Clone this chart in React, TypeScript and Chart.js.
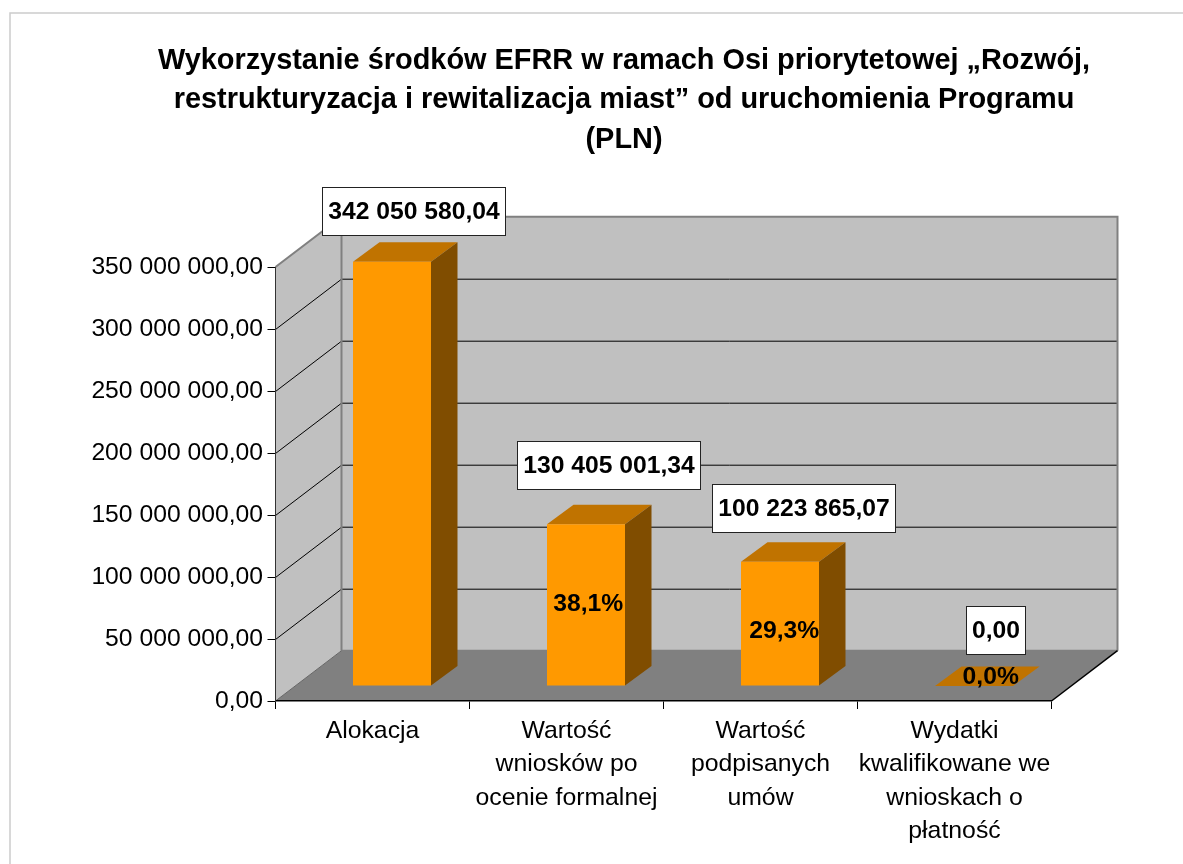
import React, { useEffect, useRef } from "react";
import { Chart, registerables } from "chart.js";

Chart.register(...registerables);

const categories = [
  "Alokacja",
  ["Wartość", "wniosków po", "ocenie formalnej"],
  ["Wartość", "podpisanych", "umów"],
  ["Wydatki", "kwalifikowane we", "wnioskach o", "płatność"],
];
const values = [342050580.04, 130405001.34, 100223865.07, 0];
const valueLabels = ["342 050 580,04", "130 405 001,34", "100 223 865,07", "0,00"];
const percentLabels = ["", "38,1%", "29,3%", "0,0%"];
const titleLines = [
  "Wykorzystanie środków EFRR w ramach Osi priorytetowej „Rozwój,",
  "restrukturyzacja i rewitalizacja miast” od uruchomienia Programu",
  "(PLN)",
];
const axisMax = 350000000;
const axisStep = 50000000;

// Style / geometry of the pseudo-3D look
const FONT = "'Liberation Sans', Arial, sans-serif";
const WALL_DX = 66;
const WALL_DY = -50.3;
const BAR_SHIFT_X = 19.5;
const BAR_SHIFT_Y = -15;
const BAR_DX = 26.5;
const BAR_DY = -19.5;
const valueNudge = [
  [40.75, -65.6],
  [42.35, -73.8],
  [42.75, -68.6],
  [40.65, -70.7],
];
const percentNudge = [
  [0, 0],
  [21.8, 63.4],
  [23.8, 53.3],
  [36.2, -25],
];

function poly(ctx: CanvasRenderingContext2D, pts: number[][], fill?: string) {
  ctx.beginPath();
  pts.forEach((p, i) => (i ? ctx.lineTo(p[0], p[1]) : ctx.moveTo(p[0], p[1])));
  ctx.closePath();
  if (fill) {
    ctx.fillStyle = fill;
    ctx.fill();
  }
}

const scene3d = {
  id: "scene3d",
  beforeDraw(chart: any) {
    const { ctx, chartArea: a, scales } = chart;
    const { left: l, right: r, top: t, bottom: b } = a;
    const dx = WALL_DX;
    const dy = WALL_DY;
    ctx.save();
    ctx.fillStyle = "#ffffff";
    ctx.fillRect(0, 0, chart.width, chart.height);
    // outer frame
    ctx.strokeStyle = "#cccccc";
    ctx.lineWidth = 1.5;
    ctx.beginPath();
    ctx.moveTo(10, chart.height);
    ctx.lineTo(10, 13);
    ctx.lineTo(chart.width, 13);
    ctx.stroke();
    // walls
    poly(ctx, [[l + dx, t + dy], [r + dx, t + dy], [r + dx, b + dy], [l + dx, b + dy]], "#c0c0c0");
    poly(ctx, [[l, t], [l + dx, t + dy], [l + dx, b + dy], [l, b]], "#c0c0c0");
    poly(ctx, [[l, b], [l + dx, b + dy], [r + dx, b + dy], [r, b]], "#808080");
    // gridlines
    ctx.strokeStyle = "#000000";
    ctx.lineWidth = 1;
    scales.y.ticks.forEach((tick: any) => {
      if (tick.value <= 0 || tick.value >= axisMax) return;
      const y = Math.round(scales.y.getPixelForValue(tick.value)) + 0.5;
      ctx.beginPath();
      ctx.moveTo(l, y);
      ctx.lineTo(l + dx, y + dy);
      ctx.lineTo(r + dx, y + dy);
      ctx.stroke();
    });
    // wall edges
    ctx.strokeStyle = "#808080";
    ctx.lineWidth = 2;
    ctx.beginPath();
    ctx.moveTo(l, t);
    ctx.lineTo(l + dx, t + dy);
    ctx.lineTo(r + dx, t + dy);
    ctx.lineTo(r + dx, b + dy);
    ctx.moveTo(l + dx, t + dy);
    ctx.lineTo(l + dx, b + dy);
    ctx.moveTo(l + dx, b + dy);
    ctx.lineTo(r + dx, b + dy);
    ctx.stroke();
    ctx.strokeStyle = "#000000";
    ctx.lineWidth = 1.5;
    ctx.beginPath();
    ctx.moveTo(r, b);
    ctx.lineTo(r + dx, b + dy);
    ctx.stroke();
    ctx.strokeStyle = "#666666";
    ctx.lineWidth = 1;
    ctx.beginPath();
    ctx.moveTo(l, b);
    ctx.lineTo(l + dx, b + dy);
    ctx.stroke();
    ctx.restore();
  },
  beforeDatasetDraw(chart: any, args: any) {
    const { ctx } = chart;
    ctx.save();
    ctx.translate(BAR_SHIFT_X, BAR_SHIFT_Y);
    args.meta.data.forEach((bar: any) => {
      const { x, y, base, width } = bar.getProps(["x", "y", "base", "width"], true);
      const xl = x - width / 2;
      const xr = x + width / 2;
      poly(ctx, [[xl, y], [xl + BAR_DX, y + BAR_DY], [xr + BAR_DX, y + BAR_DY], [xr, y]], "#c07300");
      if (base - y > 0.5) {
        poly(ctx, [[xr, y], [xr + BAR_DX, y + BAR_DY], [xr + BAR_DX, base + BAR_DY], [xr, base]], "#804d00");
      }
    });
  },
  afterDatasetDraw(chart: any) {
    chart.ctx.restore();
  },
  afterDatasetsDraw(chart: any) {
    const { ctx } = chart;
    const bars = chart.getDatasetMeta(0).data;
    ctx.save();
    ctx.font = `bold 24.7px ${FONT}`;
    ctx.textAlign = "center";
    ctx.textBaseline = "middle";
    bars.forEach((bar: any, i: number) => {
      const { x, y } = bar.getProps(["x", "y"], true);
      if (percentLabels[i]) {
        ctx.fillStyle = "#000000";
        ctx.fillText(percentLabels[i], x + percentNudge[i][0], y + percentNudge[i][1] + 1);
      }
      const cx = x + valueNudge[i][0];
      const cy = y + valueNudge[i][1];
      const w = Math.round(ctx.measureText(valueLabels[i]).width) + 11;
      const h = 48;
      const bx = Math.round(cx - w / 2) + 0.5;
      const by = Math.round(cy - h / 2) + 0.5;
      ctx.fillStyle = "#ffffff";
      ctx.fillRect(bx, by, w, h);
      ctx.strokeStyle = "#222222";
      ctx.lineWidth = 1;
      ctx.strokeRect(bx, by, w, h);
      ctx.fillStyle = "#000000";
      ctx.fillText(valueLabels[i], bx + w / 2, by + h / 2 + 1);
    });
    ctx.restore();
  },
};

export default function App() {
  const ref = useRef<HTMLCanvasElement>(null);
  useEffect(() => {
    const chart = new Chart(ref.current as HTMLCanvasElement, {
      type: "bar",
      plugins: [scene3d],
      data: {
        labels: categories as any,
        datasets: [
          {
            data: values,
            backgroundColor: "#ff9900",
            borderWidth: 0,
            barPercentage: 78 / 194,
            categoryPercentage: 1,
            clip: false as any,
          },
        ],
      },
      options: {
        animation: false,
        responsive: false,
        events: [],
        layout: { padding: { left: 65, right: 0, top: 0, bottom: 0 } },
        plugins: {
          legend: { display: false },
          tooltip: { enabled: false },
          title: {
            display: true,
            text: titleLines,
            color: "#000000",
            font: { family: FONT, size: 28.9, weight: "bold", lineHeight: 39.5 / 28.9 },
            padding: { top: 41, bottom: 107.5 },
          },
        },
        scales: {
          x: {
            afterFit(s: any) {
              s.height = 163;
            },
            grid: { drawOnChartArea: false, color: "#000000", tickLength: 8, offset: true },
            border: { color: "#000000", width: 1.5 },
            ticks: {
              color: "#000000",
              font: { family: FONT, size: 24.8, lineHeight: 33.5 / 24.8 },
              maxRotation: 0,
              minRotation: 0,
              autoSkip: false,
              padding: 5,
            },
          },
          y: {
            min: 0,
            max: axisMax,
            afterFit(s: any) {
              s.width = 210.5;
            },
            grid: { drawOnChartArea: false, color: "#000000", tickLength: 8 },
            border: { color: "#333333", width: 1 },
            ticks: {
              stepSize: axisStep,
              color: "#000000",
              font: { family: FONT, size: 24.7 },
              padding: 4.5,
              callback(v: any) {
                const n = Number(v);
                const s = String(Math.round(n)).replace(/\B(?=(\d{3})+(?!\d))/g, " ");
                return s + ",00";
              },
            },
          },
          // Empty right-hand axis: reserves the space right of the plot
          spacer: {
            type: "linear",
            position: "right",
            afterFit(s: any) {
              s.width = 131.5;
            },
            grid: { display: false },
            border: { display: false },
            ticks: { display: false },
          },
        },
      },
    });
    return () => chart.destroy();
  }, []);
  return (
    <div style={{ position: "absolute", left: 0, top: 0, width: 1183, height: 864 }}>
      <canvas ref={ref} width={1183} height={864} style={{ display: "block" }} />
    </div>
  );
}
